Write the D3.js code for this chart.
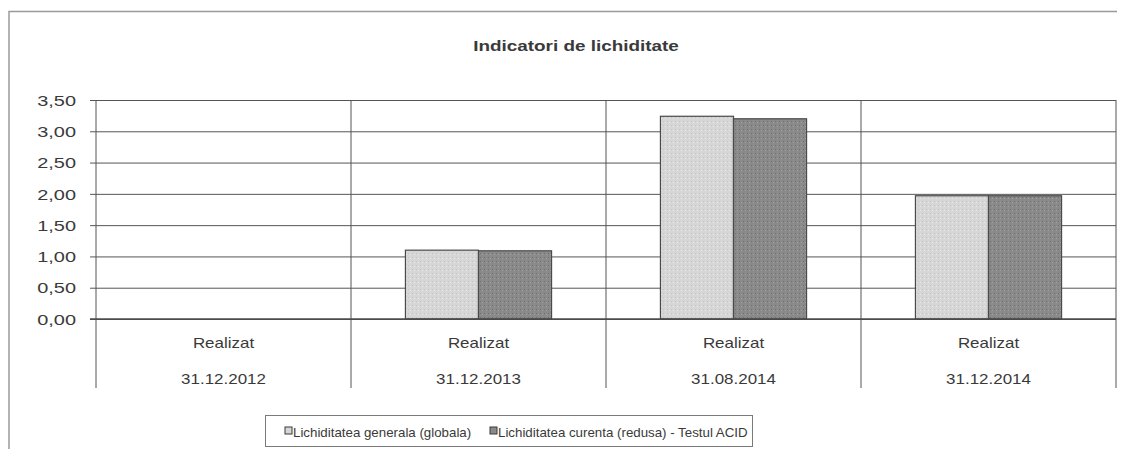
<!DOCTYPE html>
<html>
<head>
<meta charset="utf-8">
<script src="https://cdn.jsdelivr.net/npm/d3@7"></script>
<style>
  body { margin: 0; background: #fff; }
  text { font-family: "Liberation Sans", Arial, sans-serif; fill: #3a3a3a; }
</style>
</head>
<body>
<div id="plot_div"></div>
<script>
const width  = 1126;
const height = 449;
var margin = {top:100, right:10, bottom:130, left:96}

// data
const categories = ["31.12.2012", "31.12.2013", "31.08.2014", "31.12.2014"]
const catPrefix  = "Realizat"
const series     = ["Lichiditatea generala (globala)", "Lichiditatea curenta (redusa) - Testul ACID"]
const generala   = [null, 1.10, 3.24, 1.97]
const curenta    = [null, 1.09, 3.20, 1.97]
const yTicks     = [0, 0.5, 1, 1.5, 2, 2.5, 3, 3.5]
const fills      = ["#d6d6d6", "#8a8a8a"]

const plotRight = 1116
const plotBottom = 319

const svg = d3.create("svg")
      .attr("width", width)
      .attr("height", height)
      .attr("viewBox", [0, 0, width, height])

// the scanned source text is stretched sideways, so text gets a horizontal scale
function label(parent, x, y, str, size, sx, anchor){
    return parent.append("text")
        .attr("transform", `translate(${x},${y}) scale(${sx},1)`)
        .attr("text-anchor", anchor || "middle")
        .style("font-size", size + "px")
        .text(str)
}

// stipple patterns to look like the scanned greys
const defs = svg.append("defs")
fills.forEach((c, i) => {
    const p = defs.append("pattern")
        .attr("id", "pat" + i)
        .attr("width", 4).attr("height", 4)
        .attr("patternUnits", "userSpaceOnUse")
    p.append("rect").attr("width", 4).attr("height", 4).attr("fill", c)
    p.append("rect").attr("x", 1).attr("y", 1).attr("width", 1).attr("height", 1)
        .attr("fill", i ? "#6e6e6e" : "#c4c4c4")
    p.append("rect").attr("x", 3).attr("y", 2).attr("width", 1).attr("height", 1)
        .attr("fill", i ? "#a0a0a0" : "#e8e8e8")
})

// outer frame (left and top edges only are in view)
svg.append("path")
    .attr("d", `M9,${height} V11.5 H1117`)
    .attr("fill", "none")
    .attr("stroke", "#9a9a9a")
    .attr("stroke-width", 1.5)

// title
label(svg, 576, 50.5, "Indicatori de lichiditate", 15, 1.26)
    .style("font-weight", "bold")

const x0 = d3.scaleBand()
      .domain(categories)
      .range([margin.left, plotRight])

const x1 = d3.scaleBand()
      .domain(series)
      .range([0, x0.bandwidth()])
      .paddingOuter(0.745)

const y = d3.scaleLinear()
      .domain([0, 3.5])
      .range([plotBottom, margin.top])

// y axis with gridlines
const yAxis = svg.append("g")
    .attr("transform", `translate(${margin.left},0)`)
    .call(d3.axisLeft(y)
          .tickValues(yTicks)
          .tickSize(-(plotRight - margin.left))
          .tickFormat(d => d3.format(".2f")(d).replace(".", ",")))
yAxis.select(".domain").remove()
yAxis.selectAll(".tick line")
    .attr("x1", -6)
    .attr("stroke", "#555")
yAxis.selectAll(".tick text")
    .style("font-size", "15px")
    .attr("fill", "#3a3a3a")
    .attr("x", 0)
    .attr("dy", "0.35em")
    .attr("transform", "translate(-20,0) scale(1.33,1)")

// category dividers (full height, down through the labels)
const edges = categories.map(c => x0(c)).concat([plotRight])
svg.selectAll("line.divider")
    .data(edges)
    .join("line")
    .attr("class", "divider")
    .attr("x1", d => d).attr("x2", d => d)
    .attr("y1", margin.top).attr("y2", 388)
    .attr("stroke", "#555")

// bars
const rows = categories.map((c, i) => ({cat: c, vals: [generala[i], curenta[i]]}))
const groups = svg.selectAll("g.cat")
    .data(rows)
    .join("g")
    .attr("class", "cat")
    .attr("transform", d => `translate(${x0(d.cat)},0)`)

groups.selectAll("rect")
    .data(d => d.vals.map((v, j) => ({s: series[j], v: v, j: j})).filter(d => d.v != null))
    .join("rect")
    .attr("x", d => x1(d.s))
    .attr("y", d => y(d.v))
    .attr("width", x1.bandwidth())
    .attr("height", d => y(0) - y(d.v))
    .attr("fill", d => `url(#pat${d.j})`)
    .attr("stroke", "#4a4a4a")
    .attr("stroke-width", 1.2)

// zero line on top
svg.append("line")
    .attr("x1", margin.left - 6).attr("x2", plotRight)
    .attr("y1", y(0)).attr("y2", y(0))
    .attr("stroke", "#4a4a4a")
    .attr("stroke-width", 1.3)

// category labels
categories.forEach(c => {
    const cx = x0(c) + x0.bandwidth() / 2
    label(svg, cx, 348, catPrefix, 15, 1.13)
    label(svg, cx, 384, c, 15, 1.13)
})

// legend
const legend = svg.append("g")
legend.append("rect")
    .attr("x", 265.5).attr("y", 415.5)
    .attr("width", 487).attr("height", 31)
    .attr("fill", "none")
    .attr("stroke", "#7a7a7a")
const legX = [285, 490]
series.forEach((s, i) => {
    legend.append("rect")
        .attr("x", legX[i]).attr("y", 427)
        .attr("width", 7).attr("height", 7)
        .attr("fill", fills[i])
        .attr("stroke", "#3a3a3a")
    label(legend, legX[i] + 8, 436.5, s, 12, 1.11, "start")
})

plot_div.append(svg.node());
</script>
</body>
</html>
